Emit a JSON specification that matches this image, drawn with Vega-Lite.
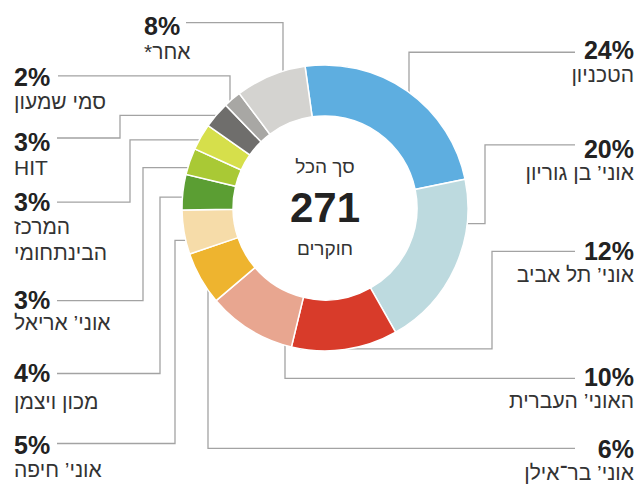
{
  "$schema": "https://vega.github.io/schema/vega-lite/v6.json",
  "width": 644,
  "height": 484,
  "autosize": {"type": "fit", "contains": "padding"},
  "padding": 0,
  "background": "white",
  "config": {"view": {"stroke": null}},
  "datasets": {
    "segments": [
      {"order": 1, "name": "הטכניון", "value": 24},
      {"order": 2, "name": "אוני’ בן גוריון", "value": 20},
      {"order": 3, "name": "אוני’ תל אביב", "value": 12},
      {"order": 4, "name": "האוני’ העברית", "value": 10},
      {"order": 5, "name": "אוני’ בר־אילן", "value": 6},
      {"order": 6, "name": "אוני’ חיפה", "value": 5},
      {"order": 7, "name": "מכון ויצמן", "value": 4},
      {"order": 8, "name": "אוני’ אריאל", "value": 3},
      {"order": 9, "name": "המרכז הבינתחומי", "value": 3},
      {"order": 10, "name": "HIT", "value": 3},
      {"order": 11, "name": "סמי שמעון", "value": 2},
      {"order": 12, "name": "אחר*", "value": 8}
    ],
    "labels": [
      {"side": "R", "pct": "24%", "name": "הטכניון", "x": 634, "y": 52, "ny": 77},
      {"side": "R", "pct": "20%", "name": "אוני’ בן גוריון", "x": 634, "y": 152, "ny": 177},
      {"side": "R", "pct": "12%", "name": "אוני’ תל אביב", "x": 634, "y": 256, "ny": 280},
      {"side": "R", "pct": "10%", "name": "האוני’ העברית", "x": 634, "y": 384, "ny": 408},
      {"side": "R", "pct": "6%", "name": "אוני’ בר־אילן", "x": 634, "y": 457, "ny": 481},
      {"side": "L", "pct": "8%", "name": "*אחר", "x": 144, "y": 27, "ny": 54},
      {"side": "L", "pct": "2%", "name": "סמי שמעון", "x": 14, "y": 79, "ny": 105},
      {"side": "L", "pct": "3%", "name": "HIT", "x": 14, "y": 145, "ny": 171},
      {"side": "L", "pct": "3%", "name": "המרכז\nהבינתחומי", "x": 14, "y": 206, "ny": 231},
      {"side": "L", "pct": "3%", "name": "אוני’ אריאל", "x": 14, "y": 305, "ny": 329},
      {"side": "L", "pct": "4%", "name": "מכון ויצמן", "x": 14, "y": 379, "ny": 409},
      {"side": "L", "pct": "5%", "name": "אוני’ חיפה", "x": 14, "y": 453, "ny": 478}
    ],
    "leaders": [
      {"id": "a", "i": 1, "x": 575, "y": 53}, {"id": "a", "i": 2, "x": 409, "y": 53}, {"id": "a", "i": 3, "x": 409, "y": 97},
      {"id": "b", "i": 1, "x": 575, "y": 147}, {"id": "b", "i": 2, "x": 485, "y": 147}, {"id": "b", "i": 3, "x": 485, "y": 227}, {"id": "b", "i": 4, "x": 465, "y": 227},
      {"id": "c", "i": 1, "x": 575, "y": 255}, {"id": "c", "i": 2, "x": 492, "y": 255}, {"id": "c", "i": 3, "x": 492, "y": 354}, {"id": "c", "i": 4, "x": 300, "y": 354},
      {"id": "d", "i": 1, "x": 575, "y": 384}, {"id": "d", "i": 2, "x": 285, "y": 384}, {"id": "d", "i": 3, "x": 285, "y": 346},
      {"id": "e", "i": 1, "x": 575, "y": 455}, {"id": "e", "i": 2, "x": 208, "y": 455}, {"id": "e", "i": 3, "x": 208, "y": 292},
      {"id": "f", "i": 1, "x": 186, "y": 23}, {"id": "f", "i": 2, "x": 283, "y": 23}, {"id": "f", "i": 3, "x": 283, "y": 76},
      {"id": "g", "i": 1, "x": 58, "y": 77}, {"id": "g", "i": 2, "x": 230, "y": 77}, {"id": "g", "i": 3, "x": 230, "y": 106},
      {"id": "h", "i": 1, "x": 57, "y": 140}, {"id": "h", "i": 2, "x": 120, "y": 140}, {"id": "h", "i": 3, "x": 120, "y": 117}, {"id": "h", "i": 4, "x": 219, "y": 117},
      {"id": "j", "i": 1, "x": 57, "y": 205}, {"id": "j", "i": 2, "x": 130, "y": 205}, {"id": "j", "i": 3, "x": 130, "y": 142}, {"id": "j", "i": 4, "x": 202, "y": 142},
      {"id": "k", "i": 1, "x": 57, "y": 305}, {"id": "k", "i": 2, "x": 143, "y": 305}, {"id": "k", "i": 3, "x": 143, "y": 170}, {"id": "k", "i": 4, "x": 190, "y": 170},
      {"id": "l", "i": 1, "x": 57, "y": 379}, {"id": "l", "i": 2, "x": 160, "y": 379}, {"id": "l", "i": 3, "x": 160, "y": 200}, {"id": "l", "i": 4, "x": 184, "y": 200},
      {"id": "m", "i": 1, "x": 57, "y": 450}, {"id": "m", "i": 2, "x": 175, "y": 450}, {"id": "m", "i": 3, "x": 175, "y": 244}, {"id": "m", "i": 4, "x": 188, "y": 244}
    ],
    "center": [
      {"text": "סך הכל", "y": 169, "role": "top"},
      {"text": "271", "y": 212, "role": "total"},
      {"text": "חוקרים", "y": 253, "role": "bottom"}
    ]
  },
  "layer": [
    {
      "data": {"name": "leaders"},
      "mark": {"type": "line", "color": "#a3a3a3", "strokeWidth": 1.3},
      "encoding": {
        "x": {"field": "x", "type": "quantitative", "scale": {"domain": [0, 644], "nice": false, "zero": false}, "axis": null},
        "y": {"field": "y", "type": "quantitative", "scale": {"domain": [0, 484], "reverse": true, "nice": false, "zero": false}, "axis": null},
        "detail": {"field": "id"},
        "order": {"field": "i"}
      }
    },
    {
      "data": {"name": "segments"},
      "mark": {"type": "arc", "outerRadius": 143, "innerRadius": 92, "stroke": "white", "strokeWidth": 1.5},
      "encoding": {
        "x": {"datum": 325, "type": "quantitative"},
        "y": {"datum": 211, "type": "quantitative"},
        "theta": {"field": "value", "type": "quantitative", "stack": true, "scale": {"range": [-0.14, 6.1432]}},
        "order": {"field": "order"},
        "color": {
          "field": "name", "type": "nominal", "legend": null,
          "scale": {
            "domain": ["הטכניון", "אוני’ בן גוריון", "אוני’ תל אביב", "האוני’ העברית", "אוני’ בר־אילן", "אוני’ חיפה", "מכון ויצמן", "אוני’ אריאל", "המרכז הבינתחומי", "HIT", "סמי שמעון", "אחר*"],
            "range": ["#5eaee0", "#bddadf", "#d83b2a", "#e8a690", "#eeb42f", "#f6dca9", "#5b9e33", "#a9c935", "#d6df4b", "#6f6e6c", "#a8a7a4", "#d4d3d0"]
          }
        }
      }
    },
    {
      "data": {"name": "labels"},
      "transform": [{"filter": "datum.side === 'R'"}],
      "mark": {"type": "text", "align": "right", "baseline": "middle", "font": "Liberation Sans", "fontWeight": "bold", "fontSize": 25, "color": "#222222"},
      "encoding": {
        "x": {"field": "x", "type": "quantitative"},
        "y": {"field": "y", "type": "quantitative"},
        "text": {"field": "pct"}
      }
    },
    {
      "data": {"name": "labels"},
      "transform": [{"filter": "datum.side === 'R'"}],
      "mark": {"type": "text", "align": "right", "baseline": "middle", "font": "Liberation Sans", "fontSize": 21, "color": "#333333", "lineBreak": "\n", "lineHeight": 26},
      "encoding": {
        "x": {"field": "x", "type": "quantitative"},
        "y": {"field": "ny", "type": "quantitative"},
        "text": {"field": "name"}
      }
    },
    {
      "data": {"name": "labels"},
      "transform": [{"filter": "datum.side === 'L'"}],
      "mark": {"type": "text", "align": "left", "baseline": "middle", "font": "Liberation Sans", "fontWeight": "bold", "fontSize": 25, "color": "#222222"},
      "encoding": {
        "x": {"field": "x", "type": "quantitative"},
        "y": {"field": "y", "type": "quantitative"},
        "text": {"field": "pct"}
      }
    },
    {
      "data": {"name": "labels"},
      "transform": [{"filter": "datum.side === 'L'"}],
      "mark": {"type": "text", "align": "left", "baseline": "middle", "font": "Liberation Sans", "fontSize": 21, "color": "#333333", "lineBreak": "\n", "lineHeight": 26},
      "encoding": {
        "x": {"field": "x", "type": "quantitative"},
        "y": {"field": "ny", "type": "quantitative"},
        "text": {"field": "name"}
      }
    },
    {
      "data": {"name": "center"},
      "transform": [{"filter": "datum.role !== 'total'"}],
      "mark": {"type": "text", "align": "center", "baseline": "middle", "font": "Liberation Sans", "fontSize": 19, "color": "#333333"},
      "encoding": {
        "x": {"datum": 325, "type": "quantitative"},
        "y": {"field": "y", "type": "quantitative"},
        "text": {"field": "text"}
      }
    },
    {
      "data": {"name": "center"},
      "transform": [{"filter": "datum.role === 'total'"}],
      "mark": {"type": "text", "align": "center", "baseline": "middle", "font": "Liberation Sans", "fontWeight": "bold", "fontSize": 42, "color": "#222222"},
      "encoding": {
        "x": {"datum": 325, "type": "quantitative"},
        "y": {"field": "y", "type": "quantitative"},
        "text": {"field": "text"}
      }
    }
  ]
}
